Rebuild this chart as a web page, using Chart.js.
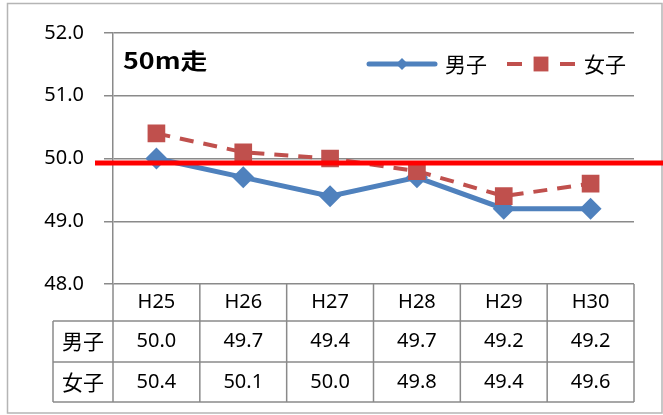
<!DOCTYPE html>
<html lang="ja">
<head>
<meta charset="utf-8">
<script src="https://cdn.jsdelivr.net/npm/chart.js@4/dist/chart.umd.min.js"></script>
<style>
  html, body { margin: 0; padding: 0; background: #fff; }
  #wrap { position: relative; width: 663px; height: 415px; }
  canvas { display: block; }
</style>
</head>
<body>
<div id="wrap"><canvas id="chart" width="663" height="415"></canvas></div>
<script>
// 年度ごとの50m走の平均記録
const years = ['H25', 'H26', 'H27', 'H28', 'H29', 'H30'];
const boys = [50.0, 49.7, 49.4, 49.7, 49.2, 49.2];
const girls = [50.4, 50.1, 50.0, 49.8, 49.4, 49.6];
const seriesNames = ['男子', '女子'];
const redLineValue = 49.93;
const yMin = 48, yMax = 52;

const BLUE = '#4F81BD';
const RED = '#C0504D';
const GRID = '#8a8a8a';
const NUM_FONT = '20px "Noto Sans", "Liberation Sans", sans-serif';
const JP_FONT = '21px "Noto Sans CJK JP", sans-serif';

// 外枠、タイトル、凡例、基準線、下のデータ表
const extras = {
    id: 'extras',
    beforeDraw(chart) {
        const ctx = chart.ctx;
        ctx.save();
        ctx.fillStyle = '#fff';
        ctx.fillRect(0, 0, chart.width, chart.height);
        ctx.strokeStyle = '#b5b5b5';
        ctx.lineWidth = 1.5;
        ctx.strokeRect(7.5, 3.5, 654.5, 409.5);
        ctx.restore();
    },
    afterDatasetsDraw(chart) {
        const ctx = chart.ctx;
        const y = chart.scales.y;
        // 基準線
        ctx.save();
        ctx.strokeStyle = '#FF0000';
        ctx.lineWidth = 5;
        ctx.beginPath();
        const ry = y.getPixelForValue(redLineValue);
        ctx.moveTo(95, ry);
        ctx.lineTo(chart.width, ry);
        ctx.stroke();
        ctx.restore();
    },
    afterDraw(chart) {
        const ctx = chart.ctx;
        const area = chart.chartArea;
        const x = chart.scales.x;
        const h = helpers;

        ctx.save();
        // タイトル（横長の書体に合わせて少し横に広げる）
        ctx.fillStyle = '#000';
        ctx.font = 'bold 22px "Noto Sans CJK JP", sans-serif';
        ctx.textBaseline = 'middle';
        ctx.textAlign = 'left';
        ctx.save();
        ctx.translate(123, 61);
        ctx.scale(1.22, 1);
        ctx.fillText('50m走', 0, 0);
        ctx.restore();

        // 凡例
        const ly = 64;
        ctx.lineCap = 'round';
        ctx.strokeStyle = BLUE;
        ctx.lineWidth = 5;
        ctx.beginPath();
        ctx.moveTo(369, ly);
        ctx.lineTo(435, ly);
        ctx.stroke();
        ctx.fillStyle = BLUE;
        h.drawPoint(ctx, { pointStyle: 'rectRot', radius: 6, borderWidth: 0 }, 402, ly);

        ctx.strokeStyle = RED;
        ctx.lineWidth = 4;
        ctx.lineCap = 'butt';
        ctx.beginPath();
        ctx.moveTo(507, ly); ctx.lineTo(522, ly);
        ctx.moveTo(560, ly); ctx.lineTo(575, ly);
        ctx.stroke();
        ctx.fillStyle = RED;
        h.drawPoint(ctx, { pointStyle: 'rect', radius: 10.5, borderWidth: 0 }, 541, ly);

        ctx.fillStyle = '#000';
        ctx.font = JP_FONT;
        ctx.fillText(seriesNames[0], 445, ly);
        ctx.fillText(seriesNames[1], 584, ly);

        // データ表
        const top = area.bottom;
        const rowB = [top, 321, 362, 402];
        const labelLeft = 53;
        const colW = (area.right - area.left) / years.length;
        const edges = years.map((_, i) => area.left + i * colW).concat(area.right);

        ctx.strokeStyle = GRID;
        ctx.lineWidth = 1.5;
        ctx.beginPath();
        edges.forEach(ex => {
            ctx.moveTo(ex, top);
            ctx.lineTo(ex, rowB[3]);
        });
        ctx.moveTo(labelLeft, rowB[1]);
        ctx.lineTo(labelLeft, rowB[3]);
        for (let r = 1; r < 4; r++) {
            ctx.moveTo(labelLeft, rowB[r]);
            ctx.lineTo(area.right, rowB[r]);
        }
        ctx.stroke();

        ctx.textAlign = 'center';
        ctx.textBaseline = 'middle';
        ctx.fillStyle = '#000';
        const mid = r => (rowB[r] + rowB[r + 1]) / 2;
        years.forEach((yr, i) => {
            const cx = x.getPixelForValue(i);
            ctx.font = NUM_FONT;
            ctx.fillText(yr, cx, mid(0));
            ctx.fillText(boys[i].toFixed(1), cx, mid(1));
            ctx.fillText(girls[i].toFixed(1), cx, mid(2));
        });
        ctx.font = JP_FONT;
        ctx.fillText(seriesNames[0], (labelLeft + area.left) / 2, mid(1));
        ctx.fillText(seriesNames[1], (labelLeft + area.left) / 2, mid(2));
        ctx.restore();
    }
};

const helpers = Chart.helpers;

new Chart(document.getElementById('chart'), {
    type: 'line',
    data: {
        labels: years,
        datasets: [
            {
                label: seriesNames[0],
                data: boys,
                borderColor: BLUE,
                backgroundColor: BLUE,
                borderWidth: 5,
                pointStyle: 'rectRot',
                pointRadius: 11,
                pointBorderWidth: 0,
                order: 1
            },
            {
                label: seriesNames[1],
                data: girls,
                borderColor: RED,
                backgroundColor: RED,
                borderWidth: 4,
                borderDash: [14, 10],
                pointStyle: 'rect',
                pointRadius: 12.5,
                pointBorderWidth: 0,
                order: 0
            }
        ]
    },
    options: {
        responsive: false,
        animation: false,
        layout: { padding: { left: 0, top: 33, right: 29, bottom: 131 } },
        plugins: {
            legend: { display: false },
            title: { display: false },
            tooltip: { enabled: false }
        },
        scales: {
            x: {
                display: false,
                offset: true
            },
            y: {
                min: yMin,
                max: yMax,
                afterFit(scale) { scale.width = 113; },
                grid: {
                    color: GRID,
                    lineWidth: 1.5,
                    tickLength: 9
                },
                border: { color: GRID, width: 1.5 },
                ticks: {
                    stepSize: 1,
                    padding: 20,
                    color: '#000',
                    font: { family: '"Noto Sans", "Liberation Sans", sans-serif', size: 20 },
                    callback: v => v.toFixed(1)
                }
            }
        }
    },
    plugins: [extras]
});
</script>
</body>
</html>
